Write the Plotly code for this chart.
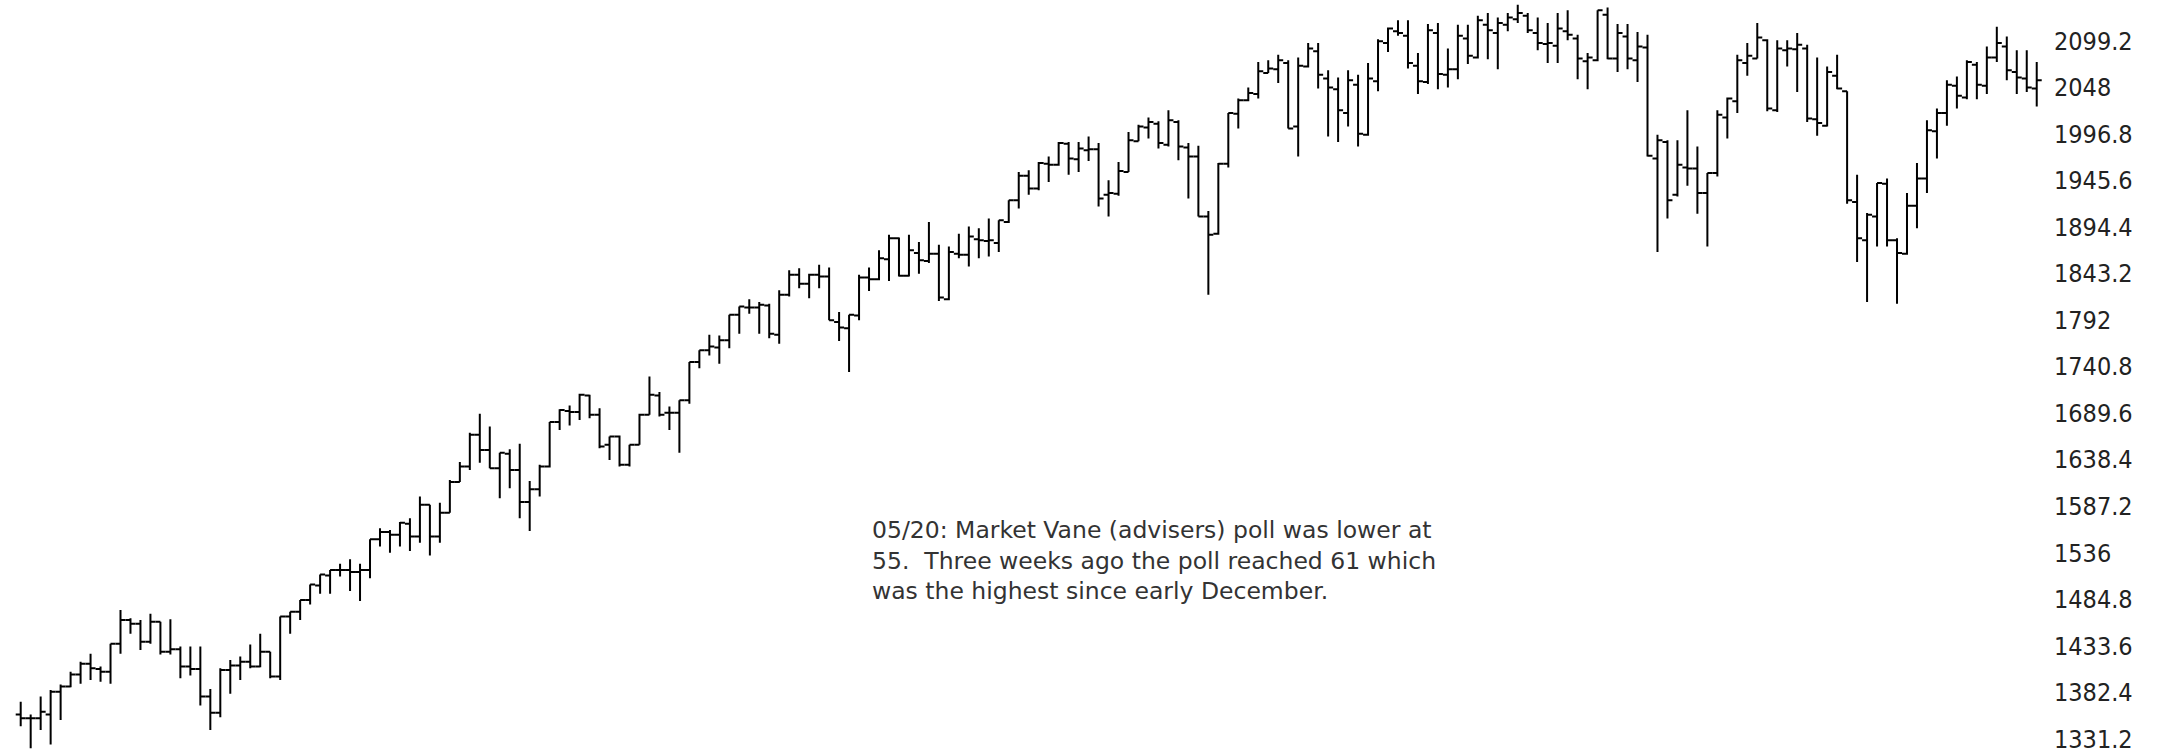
import plotly.graph_objects as go

# weekly bars (oldest first)
opens = [1358, 1354, 1354, 1358, 1383, 1389, 1402, 1414, 1408, 1405, 1436, 1462, 1458, 1438, 1460, 1427, 1430, 1411, 1408, 1378,
         1360, 1407, 1412, 1416, 1411, 1427, 1400, 1466, 1471, 1484, 1500, 1511, 1517, 1517, 1515, 1517, 1551, 1559, 1556, 1568,
         1554, 1589, 1554, 1580, 1614, 1631, 1666, 1649, 1629, 1645, 1627, 1592, 1606, 1631, 1680, 1692, 1691, 1709, 1688, 1655,
         1664, 1633, 1655, 1688, 1709, 1690, 1690, 1704, 1746, 1759, 1762, 1770, 1798, 1806, 1806, 1808, 1776, 1820, 1842, 1832,
         1842, 1840, 1790, 1783, 1797, 1839, 1837, 1859, 1882, 1841, 1866, 1857, 1865, 1815, 1865, 1864, 1881, 1879, 1877, 1900,
         1924, 1951, 1937, 1964, 1963, 1986, 1969, 1979, 1980, 1930, 1931, 1955, 1989, 2004, 2008, 1985, 2010, 1982, 1972, 1906,
         1887, 1964, 2019, 2034, 2041, 2064, 2068, 2075, 2005, 2071, 2088, 2058, 2046, 2020, 2051, 1996, 2055, 2097, 2110, 2105,
         2072, 2054, 2108, 2062, 2068, 2102, 2081, 2117, 2108, 2117, 2123, 2127, 2108, 2096, 2094, 2110, 2102, 2077, 2078, 2128,
         2080, 2104, 2078, 2092, 1970, 1988, 1930, 1960, 1959, 1932, 1954, 2015, 2033, 2075, 2080, 2100, 2023, 2089, 2090, 2091,
         2013, 2006, 2061, 2044, 1922, 1880, 1906, 1942, 1880, 1865, 1918, 1948, 2000, 2020, 2050, 2037, 2073, 2050, 2081, 2093,
         2065, 2058, 2047]
highs = [1372, 1358, 1378, 1385, 1391, 1405, 1416, 1425, 1411, 1436, 1473, 1464, 1462, 1469, 1460, 1463, 1433, 1433, 1433, 1386,
         1409, 1418, 1422, 1435, 1447, 1427, 1466, 1471, 1484, 1501, 1512, 1517, 1524, 1529, 1524, 1551, 1563, 1561, 1570, 1574,
         1598, 1589, 1591, 1616, 1636, 1668, 1689, 1675, 1646, 1650, 1656, 1615, 1633, 1680, 1694, 1698, 1711, 1710, 1695, 1664,
         1665, 1655, 1689, 1730, 1713, 1697, 1704, 1746, 1759, 1776, 1775, 1798, 1807, 1815, 1812, 1810, 1825, 1847, 1849, 1843,
         1853, 1850, 1801, 1798, 1842, 1850, 1869, 1886, 1883, 1886, 1878, 1900, 1875, 1873, 1887, 1895, 1893, 1904, 1902, 1924,
         1955, 1957, 1966, 1972, 1988, 1988, 1988, 1994, 1987, 1946, 1966, 1999, 2007, 2015, 2011, 2023, 2012, 1987, 1984, 1912,
         1965, 2020, 2036, 2048, 2076, 2078, 2084, 2078, 2081, 2097, 2097, 2067, 2059, 2067, 2062, 2075, 2101, 2114, 2122, 2122,
         2086, 2118, 2119, 2091, 2117, 2117, 2127, 2130, 2125, 2130, 2139, 2130, 2125, 2119, 2130, 2133, 2106, 2086, 2133, 2136,
         2118, 2118, 2109, 2106, 1996, 1990, 1990, 2023, 1983, 1954, 2023, 2037, 2084, 2097, 2119, 2101, 2100, 2100, 2108, 2095,
         2081, 2071, 2084, 2044, 1952, 1910, 1943, 1948, 1882, 1932, 1965, 2012, 2025, 2056, 2060, 2078, 2076, 2093, 2115, 2104,
         2089, 2089, 2076]
lows = [1345, 1321, 1341, 1325, 1352, 1388, 1392, 1396, 1394, 1392, 1425, 1447, 1429, 1436, 1424, 1424, 1398, 1401, 1368, 1341,
        1355, 1381, 1396, 1409, 1410, 1398, 1396, 1447, 1462, 1479, 1491, 1491, 1510, 1494, 1483, 1508, 1543, 1536, 1543, 1538,
        1547, 1533, 1547, 1580, 1614, 1627, 1635, 1629, 1596, 1607, 1574, 1560, 1598, 1630, 1671, 1676, 1682, 1684, 1651, 1638,
        1631, 1631, 1655, 1688, 1686, 1671, 1646, 1700, 1739, 1753, 1744, 1761, 1777, 1799, 1777, 1772, 1766, 1818, 1827, 1816,
        1827, 1792, 1769, 1735, 1792, 1824, 1836, 1835, 1840, 1840, 1843, 1855, 1813, 1814, 1860, 1851, 1860, 1862, 1867, 1899,
        1915, 1930, 1935, 1944, 1962, 1952, 1955, 1967, 1917, 1906, 1929, 1955, 1989, 1992, 1981, 1983, 1968, 1926, 1906, 1820,
        1886, 1960, 2003, 2033, 2036, 2064, 2053, 2003, 1972, 2070, 2047, 1994, 1988, 2005, 1983, 1995, 2044, 2087, 2105, 2069,
        2041, 2052, 2046, 2048, 2057, 2074, 2080, 2079, 2068, 2110, 2119, 2108, 2089, 2075, 2075, 2100, 2057, 2046, 2077, 2079,
        2065, 2068, 2054, 1972, 1867, 1904, 1928, 1940, 1909, 1873, 1950, 1992, 2020, 2061, 2080, 2022, 2021, 2071, 2043, 2010,
        1995, 2005, 2046, 1920, 1856, 1812, 1873, 1873, 1810, 1864, 1893, 1932, 1970, 2006, 2025, 2035, 2035, 2041, 2076, 2056,
        2041, 2043, 2027]
closes = [1354, 1354, 1361, 1383, 1389, 1402, 1414, 1409, 1405, 1436, 1462, 1458, 1438, 1460, 1427, 1430, 1411, 1408, 1378, 1360,
          1407, 1412, 1416, 1411, 1427, 1400, 1466, 1471, 1484, 1501, 1512, 1517, 1517, 1515, 1517, 1551, 1559, 1556, 1569, 1554,
          1589, 1554, 1580, 1614, 1631, 1666, 1649, 1629, 1646, 1627, 1592, 1606, 1631, 1680, 1693, 1691, 1710, 1688, 1653, 1664,
          1633, 1655, 1688, 1710, 1688, 1690, 1704, 1746, 1759, 1763, 1770, 1798, 1807, 1806, 1809, 1777, 1820, 1842, 1832, 1842,
          1840, 1792, 1784, 1798, 1839, 1837, 1860, 1882, 1841, 1869, 1858, 1865, 1817, 1867, 1864, 1884, 1880, 1880, 1902, 1924,
          1951, 1937, 1965, 1963, 1987, 1970, 1981, 1980, 1926, 1932, 1956, 1990, 2005, 2010, 1987, 2012, 1983, 1972, 1906, 1886,
          1964, 2020, 2034, 2042, 2066, 2069, 2078, 2003, 2072, 2091, 2062, 2048, 2023, 2056, 1997, 2058, 2099, 2113, 2108, 2075,
          2055, 2111, 2063, 2068, 2105, 2083, 2122, 2111, 2119, 2125, 2130, 2111, 2097, 2097, 2113, 2106, 2080, 2081, 2133, 2080,
          2108, 2080, 2093, 1973, 1990, 1924, 1963, 1959, 1932, 1954, 2018, 2036, 2078, 2083, 2103, 2025, 2091, 2091, 2095, 2014,
          2009, 2065, 2047, 1924, 1882, 1908, 1943, 1880, 1866, 1918, 1948, 2001, 2020, 2051, 2039, 2076, 2051, 2081, 2097, 2067,
          2059, 2048, 2056]

bar_no = list(range(1, len(closes) + 1))

tick_vals = [1331.2, 1382.4, 1433.6, 1484.8, 1536, 1587.2, 1638.4, 1689.6, 1740.8, 1792,
             1843.2, 1894.4, 1945.6, 1996.8, 2048, 2099.2]
tick_text = ["1331.2", "1382.4", "1433.6", "1484.8", "1536", "1587.2", "1638.4", "1689.6", "1740.8", "1792",
             "1843.2", "1894.4", "1945.6", "1996.8", "2048", "2099.2"]

note = ("05/20: Market Vane (advisers) poll was lower at<br>"
        "55.\u00a0 Three weeks ago the poll reached 61 which<br>"
        "was the highest since early December.")

fig = go.Figure()

fig.add_trace(go.Ohlc(
    x=bar_no,
    open=opens,
    high=highs,
    low=lows,
    close=closes,
    tickwidth=0.5,
    increasing=dict(line=dict(color='black', width=2)),
    decreasing=dict(line=dict(color='black', width=2)),
    hoverinfo='skip',
))

fig.add_annotation(
    text=note,
    xref='paper', yref='paper',
    x=0.4240, y=0.319,
    xanchor='left', yanchor='top',
    align='left',
    showarrow=False,
    font=dict(family='DejaVu Sans', size=23.5, color='#333333'),
)

fig.update_layout(
    width=2165,
    height=755,
    margin=dict(l=0, r=112, t=0, b=0),
    plot_bgcolor='white',
    paper_bgcolor='white',
    showlegend=False,
    xaxis=dict(
        visible=False,
        range=[-1.074, 204.63],
        rangeslider=dict(visible=False),
    ),
    yaxis=dict(
        side='right',
        range=[1313.5, 2144.3],
        tickvals=tick_vals,
        ticktext=tick_text,
        ticks='',
        showgrid=False,
        zeroline=False,
        showline=False,
        tickfont=dict(family='DejaVu Sans Condensed, Liberation Sans', size=25, color='#222222'),
    ),
)

fig.write_html(
    "out.html",
    config={'displayModeBar': False},
    post_script="document.body.style.margin='0';document.body.style.overflow='hidden';",
)
